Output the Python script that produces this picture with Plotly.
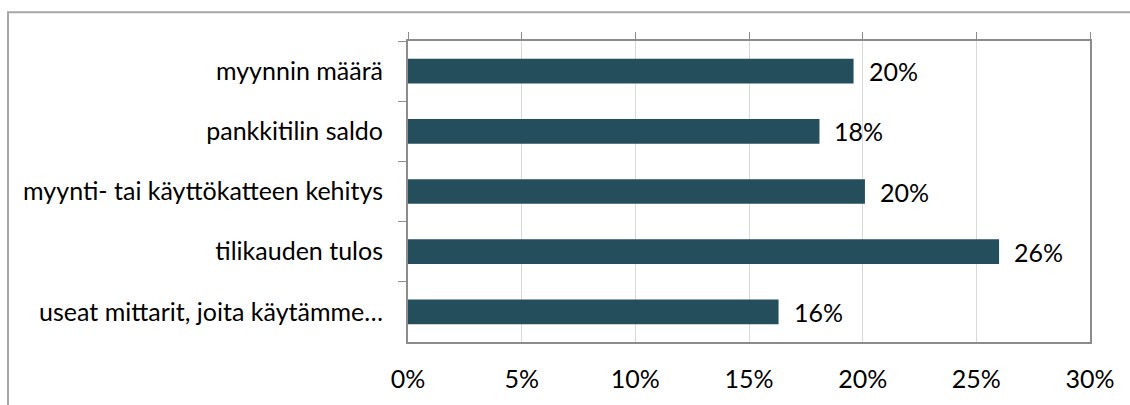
import plotly.graph_objects as go

# Survey answers: share of respondents per indicator
categories = [
    "myynnin määrä",
    "pankkitilin saldo",
    "myynti- tai käyttökatteen kehitys",
    "tilikauden tulos",
    "useat mittarit, joita käytämme…",
]
shares = [0.196, 0.181, 0.201, 0.260, 0.163]

x_ticks = [0, 0.05, 0.10, 0.15, 0.20, 0.25, 0.30]

BAR_COLOR = "#244e5c"
FRAME = "#8c8c8c"
GRID = "#d9d9d9"
FONT = dict(family="Lato, 'Open Sans', sans-serif", size=25, color="#000000")

fig = go.Figure()
fig.add_trace(go.Bar(
    x=shares,
    y=categories,
    orientation="h",
    marker=dict(color=BAR_COLOR, line=dict(width=0)),
    hoverinfo="skip",
    showlegend=False,
))
# helper trace so the top tick axis is drawn
fig.add_trace(go.Scatter(x=[None], y=[None], xaxis="x2", showlegend=False, hoverinfo="skip"))

# value labels just past the bar ends
for cat, v in zip(categories, shares):
    fig.add_annotation(
        x=v, y=cat, text=f"{v:.0%}", showarrow=False,
        xanchor="left", xshift=13, font=FONT,
    )

fig.update_layout(
    width=1130, height=405,
    margin=dict(l=408, r=40, t=41, b=61),
    paper_bgcolor="white", plot_bgcolor="white",
    bargap=0.59,
    font=FONT,
    xaxis=dict(
        range=[0, 0.30], tickvals=x_ticks, tickformat=".0%",
        showgrid=True, gridcolor=GRID, gridwidth=1,
        showline=True, linecolor=FRAME, linewidth=2, mirror=True,
        ticks="", ticklabelstandoff=14, zeroline=False,
        tickfont=FONT,
    ),
    xaxis2=dict(
        overlaying="x", side="top", matches="x", range=[0, 0.30],
        tickvals=x_ticks, ticks="outside", ticklen=8, tickcolor=FRAME, tickwidth=1,
        showticklabels=False, showgrid=False, showline=False, zeroline=False,
    ),
    yaxis=dict(
        categoryorder="array", categoryarray=categories, autorange="reversed",
        showline=True, linecolor=FRAME, linewidth=2, mirror=True,
        ticks="outside", tickson="boundaries", ticklen=8, tickcolor=FRAME, tickwidth=1,
        ticklabelstandoff=18, showgrid=False, tickfont=FONT,
    ),
    shapes=[
        # outer chart frame (left and top edges visible)
        dict(type="rect", xref="paper", yref="paper",
             x0=(8 - 408) / 682, x1=(1140 - 408) / 682,
             y0=(344 - 415) / 303, y1=(344 - 12) / 303,
             line=dict(color="#a6a6a6", width=2), fillcolor="rgba(0,0,0,0)",
             layer="below"),
    ],
)

fig.write_html("out.html")
